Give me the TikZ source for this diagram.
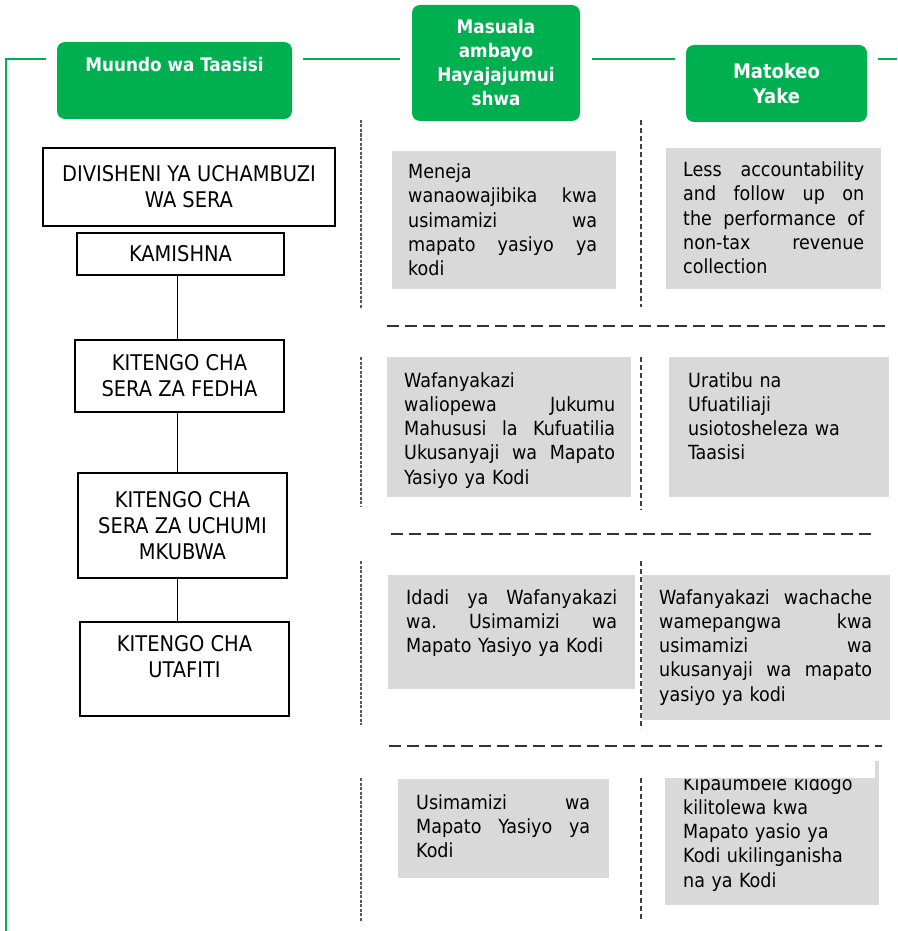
\documentclass[tikz,border=0pt]{standalone}
\usepackage{fontspec}
\setmainfont{DejaVu Sans Condensed}
\definecolor{hgreen}{HTML}{00B050}
\definecolor{boxgray}{HTML}{D9D9D9}
\newcommand{\jl}[2]{\makebox[#1][l]{#2}}
\begin{document}
\begin{tikzpicture}[x=1pt,y=-1pt,
  hdr/.style={fill=hgreen, rounded corners=8pt, text=white, inner sep=0pt,
    font=\bfseries\fontsize{18.7}{24}\selectfont, align=center},
  orgbox/.style={draw=black, line width=1.4pt, fill=white, inner sep=0pt,
    font=\fontsize{21.6}{26}\selectfont, align=center},
  orgline/.style={draw=black, line width=1.4pt},
  gline/.style={draw=hgreen, line width=1.4pt},
  gbox/.style={fill=boxgray, inner sep=0pt},
  gtext/.style={anchor=north west, inner sep=0pt, align=left,
    font=\fontsize{19.5}{24.2}\selectfont,
    execute at begin node={\setlength{\parindent}{0pt}}},
  vdivL/.style={draw=gray!70!black, line width=1.5pt, dash pattern=on 3pt off 1.5pt},
  vdivM/.style={draw=black!75, line width=1.8pt, dash pattern=on 5pt off 3pt},
  hdiv/.style={draw=black!80, line width=1.6pt, dash pattern=on 12pt off 6pt}
]
\useasboundingbox (0,0) rectangle (897,931);

% header boxes
\node[hdr, minimum width=235pt, text height=30pt, text depth=47pt] (hA) at (174.5,80.5) {Muundo wa Taasisi};
\node[hdr, minimum width=168pt, minimum height=116pt] (hB) at (496,63) {Masuala\\ambayo\\Hayajajumui\\shwa};
\node[hdr, minimum width=181pt, minimum height=77pt, font=\bfseries\fontsize{20}{25}\selectfont] (hC) at (776.5,83.5) {Matokeo\\Yake};

% green connectors
\coordinate (g0) at (6,931);
\coordinate (g1) at (6,59);
\coordinate (g2) at (46,59);
\draw[gline] (g0) -- (g1) -- (g2);
\draw[gline] ([xshift=11pt]hA.east |- g1) -- ([xshift=-12pt]hB.west |- g1);
\draw[gline] ([xshift=12pt]hB.east |- g1) -- ([xshift=-11pt]hC.west |- g1);
\coordinate (g9) at (897,59);
\draw[gline] ([xshift=11pt]hC.east |- g1) -- (g9);

% organisation boxes
\node[orgbox, minimum width=292pt, minimum height=78pt] (ob1) at (189,187) {DIVISHENI YA UCHAMBUZI\\WA SERA};
\node[orgbox, minimum width=207pt, minimum height=42pt] (ob2) at (180.5,254) {KAMISHNA};
\node[orgbox, minimum width=209pt, minimum height=72pt] (ob3) at (179.5,376) {KITENGO CHA\\SERA ZA FEDHA};
\node[orgbox, minimum width=209pt, minimum height=105pt] (ob4) at (182.5,525.5) {KITENGO CHA\\SERA ZA UCHUMI\\MKUBWA};
\node[orgbox, minimum width=209pt, minimum height=94pt] (ob5) at (184.5,669) {KITENGO CHA\\UTAFITI\\\mbox{}};
\draw[orgline] ([xshift=-3pt]ob2.south) -- ([xshift=-3pt]ob2.south |- ob3.north);
\draw[orgline] ([xshift=-2pt]ob3.south) -- ([xshift=-2pt]ob3.south |- ob4.north);
\draw[orgline] ([xshift=-5pt]ob4.south) -- ([xshift=-5pt]ob4.south |- ob5.north);

% grey boxes
\node[gbox, minimum width=224pt, minimum height=138pt] (m1) at (504,220) {};
\node[gbox, minimum width=244pt, minimum height=140pt] (m2) at (509,427) {};
\node[gbox, minimum width=247pt, minimum height=114pt] (m3) at (511.5,632) {};
\node[gbox, minimum width=211pt, minimum height=99pt] (m4) at (503.5,828.5) {};
\node[gbox, minimum width=215pt, minimum height=141pt] (r1) at (773.5,218.5) {};
\node[gbox, minimum width=220pt, minimum height=140pt] (r2) at (779,427) {};
\node[gbox, minimum width=248pt, minimum height=145pt] (r3) at (766,647.5) {};
\node[gbox, minimum width=214pt, minimum height=127pt] (r4) at (772,841.5) {};
\node[gbox, minimum width=4pt, minimum height=17pt, anchor=south east] (r4n) at (r4.north east) {};

% texts
\node[gtext, text width=189pt] (m1t) at (408,161.5) {\strut Meneja\\\jl{189pt}{wanaowajibika\hfill kwa}\\\jl{189pt}{usimamizi\hfill wa}\\\jl{189pt}{mapato\hfill yasiyo\hfill ya}\\kodi};
\node[gtext, text width=211pt] (m2t) at (404,370.2) {\strut Wafanyakazi\\\jl{211pt}{waliopewa\hfill Jukumu}\\\jl{211pt}{Mahususi\hfill la\hfill Kufuatilia}\\\jl{211pt}{Ukusanyaji\hfill wa\hfill Mapato}\\Yasiyo ya Kodi};
\node[gtext, text width=211pt] (m3t) at (406,587.2) {\jl{211pt}{\strut Idadi\hfill ya\hfill Wafanyakazi}\\\jl{211pt}{wa.\hfill Usimamizi\hfill wa}\\Mapato Yasiyo ya Kodi};
\node[gtext, text width=174pt] (m4t) at (416,792.2) {\jl{174pt}{\strut Usimamizi\hfill wa}\\\jl{174pt}{Mapato\hfill Yasiyo\hfill ya}\\Kodi};
\node[gtext, text width=181pt] (r1t) at (683,159.5) {\jl{181pt}{\strut Less\hfill accountability}\\\jl{181pt}{and\hfill follow\hfill up\hfill on}\\\jl{181pt}{the\hfill performance\hfill of}\\\jl{181pt}{non-tax\hfill revenue}\\collection};
\node[gtext, text width=190pt] (r2t) at (688,370.2) {\strut Uratibu na\\Ufuatiliaji\\usiotosheleza wa\\Taasisi};
\node[gtext, text width=213pt] (r3t) at (659,587.2) {\jl{213pt}{\strut Wafanyakazi\hfill wachache}\\\jl{213pt}{wamepangwa\hfill kwa}\\\jl{213pt}{usimamizi\hfill wa}\\\jl{213pt}{ukusanyaji\hfill wa\hfill mapato}\\yasiyo ya kodi};
\begin{scope}
\clip ([yshift=-2pt]r4.north west) rectangle (r4.south east);
\node[gtext, text width=190pt] (r4t) at (683,773.2) {\strut Kipaumbele kidogo\\kilitolewa kwa\\Mapato yasio ya\\Kodi ukilinganisha\\na ya Kodi};
\end{scope}

% dividers
\coordinate (a1) at (361,120); \coordinate (a2) at (361,308);
\coordinate (a3) at (361,357); \coordinate (a4) at (361,506);
\coordinate (a5) at (361,561); \coordinate (a6) at (361,725);
\coordinate (a7) at (361,778); \coordinate (a8) at (361,922);
\draw[vdivL] (a1) -- (a2); \draw[vdivL] (a3) -- (a4);
\draw[vdivL] (a5) -- (a6); \draw[vdivL] (a7) -- (a8);
\coordinate (b1) at (641,120); \coordinate (b2) at (641,307);
\coordinate (b3) at (641,357); \coordinate (b4) at (641,510);
\coordinate (b5) at (641,561); \coordinate (b6) at (641,729);
\coordinate (b7) at (641,778); \coordinate (b8) at (641,920);
\draw[vdivM] (b1) -- (b2); \draw[vdivM] (b3) -- (b4);
\draw[vdivM] (b5) -- (b6); \draw[vdivM] (b7) -- (b8);
\coordinate (c1) at (387,326); \coordinate (c2) at (885,326);
\coordinate (c3) at (391,534); \coordinate (c4) at (873,534);
\coordinate (c5) at (389,746); \coordinate (c6) at (882,746);
\draw[hdiv] (c1) -- (c2);
\draw[hdiv] (c3) -- (c4);
\draw[hdiv] (c5) -- (c6);
\end{tikzpicture}
\end{document}
